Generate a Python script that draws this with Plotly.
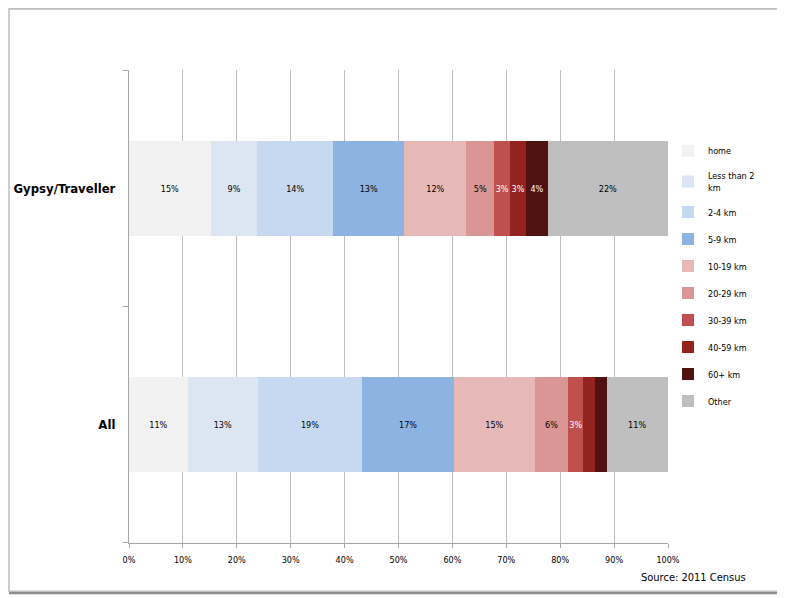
import plotly.graph_objects as go

# distance travelled to work, share of people in work (%)
groups = ["Gypsy/Traveller", "All"]
distances = ["home", "Less than 2<br>km", "2-4 km", "5-9 km", "10-19 km",
             "20-29 km", "30-39 km", "40-59 km", "60+ km", "Other"]
gypsy_pct = [15.2, 8.6, 14.1, 13.2, 11.5, 5.2, 2.9, 3.0, 4.0, 22.3]
all_pct = [10.9, 13.0, 19.4, 17.0, 15.0, 6.2, 2.8, 2.2, 2.1, 11.4]

colours = ["#F2F2F2", "#DCE6F2", "#C6D9F0", "#8DB3E2", "#E6B9B8",
           "#D99694", "#C0504D", "#93231F", "#501210", "#BFBFBF"]
text_colours = ["black"] * 6 + ["white"] * 3 + ["black"]

FONT = "DejaVu Sans Condensed"


def label(v):
    # the thin slices are left without a label, like the original
    if v < 2.5:
        return ""
    return str(round(v)) + "%"


fig = go.Figure()

for i, name in enumerate(distances):
    vals = [gypsy_pct[i], all_pct[i]]
    fig.add_trace(go.Bar(
        y=groups,
        x=vals,
        orientation="h",
        name=name,
        legendgroup="g" + str(i),
        marker=dict(color=colours[i], line=dict(width=0)),
        text=[label(v) for v in vals],
        textposition="inside",
        insidetextanchor="middle",
        textangle=0,
        textfont=dict(family=FONT, size=9, color=text_colours[i]),
        width=0.4,
    ))

fig.update_layout(
    barmode="stack",
    width=785, height=598,
    margin=dict(l=121, r=125, t=62, b=63, autoexpand=False),
    paper_bgcolor="white",
    plot_bgcolor="white",
    font=dict(family=FONT, size=9, color="black"),
    uniformtext=dict(minsize=9, mode="show"),
    showlegend=True,
    legend=dict(
        x=1.0, y=0.86, xanchor="left", yanchor="top",
        traceorder="grouped", tracegroupgap=8,
        font=dict(family=FONT, size=9),
        itemwidth=30,
    ),
    xaxis=dict(
        range=[0, 100],
        tickvals=[0, 10, 20, 30, 40, 50, 60, 70, 80, 90, 100],
        ticktext=[str(t) + "%" for t in range(0, 101, 10)],
        showgrid=True, gridcolor="#BDBDBD", gridwidth=1,
        showline=True, linecolor="#A6A6A6", linewidth=1,
        ticks="outside", ticklen=4, tickcolor="#A6A6A6",
        ticklabelstandoff=4,
        zeroline=False, automargin=False,
        tickfont=dict(family=FONT, size=9),
        fixedrange=True,
    ),
    yaxis=dict(
        categoryorder="array",
        categoryarray=["All", "Gypsy/Traveller"],
        showline=True, linecolor="#A6A6A6", linewidth=1,
        showgrid=False, automargin=False,
        tickvals=["Gypsy/Traveller", "All"],
        ticktext=["<b>Gypsy/Traveller</b>", "<b>All</b>"],
        ticks="", ticklabelstandoff=10,
        tickfont=dict(family=FONT, size=13),
    ),
)

# small tick marks on the category axis, between the groups
for yy in [-0.5, 0.5, 1.5]:
    fig.add_shape(type="line", xref="paper", yref="y",
                  x0=-0.012, x1=0, y0=yy, y1=yy,
                  line=dict(color="#A6A6A6", width=1))

# chart frame with a drop shadow on the right and bottom
fig.add_shape(type="rect", xref="paper", yref="paper",
              x0=-0.2200, x1=1.2110, y0=-0.1050, y1=1.1270,
              line=dict(color="#8C8C8C", width=3), layer="below")
fig.add_shape(type="rect", xref="paper", yref="paper",
              x0=-0.2226, x1=1.2080, y0=-0.1020, y1=1.1290,
              line=dict(color="#BFBFBF", width=1.5), fillcolor="white",
              layer="below")

fig.add_annotation(text="Source: 2011 Census", xref="paper", yref="paper",
                   x=1.148, y=-0.072, xanchor="right", yanchor="middle",
                   showarrow=False, font=dict(family=FONT, size=11))

fig.write_html("out.html")
